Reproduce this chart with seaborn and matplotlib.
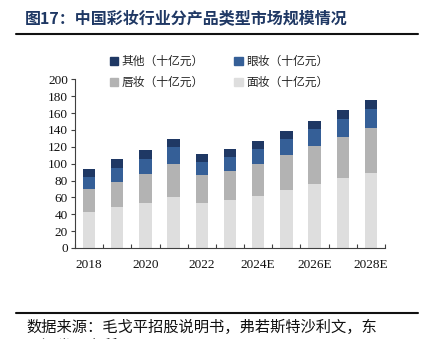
import matplotlib
matplotlib.use("Agg")
import matplotlib.pyplot as plt
import seaborn as sns
import numpy as np
import pandas as pd
from matplotlib.lines import Line2D
from matplotlib.patches import Patch

years = ["2018", "2019", "2020", "2021", "2022", "2023", "2024E", "2025E", "2026E", "2027E", "2028E"]
face = [42.6, 48.5, 53.6, 60.7, 52.9, 56.4, 61.5, 68.6, 75.3, 82.4, 89.5]
lip = [26.8, 30.0, 34.0, 38.7, 33.1, 34.3, 37.9, 41.1, 45.4, 49.0, 52.9]
eye = [15.0, 16.5, 17.4, 19.8, 15.8, 17.0, 17.8, 19.3, 20.1, 21.7, 22.5]
other = [8.7, 10.0, 10.6, 10.6, 9.4, 9.1, 9.4, 9.9, 10.3, 10.2, 10.6]
series_names = ["其他（十亿元）", "眼妆（十亿元）", "唇妆（十亿元）", "面妆（十亿元）"]
colors = ["#1F3864", "#355F97", "#B3B3B3", "#DEDEDE"]
xtick_labels = ["2018", "", "2020", "", "2022", "", "2024E", "", "2026E", "", "2028E"]
title = "图17：中国彩妆行业分产品类型市场规模情况"
source1 = "数据来源：毛戈平招股说明书，弗若斯特沙利文，东"
source2 = "吴证券研究所"

sns.set_style("white")
plt.rcParams["font.family"] = ["Noto Sans CJK SC", "DejaVu Sans"]

W, H = 423, 339
fig = plt.figure(figsize=(W / 100, H / 100), dpi=100)
ax = fig.add_axes([75 / W, 1 - 248 / H, 310 / W, (248 - 79.3) / H])

df = pd.DataFrame({"year": years, "face": face, "lip": lip, "eye": eye, "other": other})
c1 = df["face"]
c2 = c1 + df["lip"]
c3 = c2 + df["eye"]
c4 = c3 + df["other"]
for cum, col in zip([c4, c3, c2, c1], colors):
    sns.barplot(x=df["year"], y=cum, color=col, width=0.44, ax=ax,
                saturation=1, linewidth=0, edgecolor=col)

ax.set_ylim(0, 200)
ax.set_xlim(-0.5, 10.5)
ax.set_yticks(range(0, 201, 20))
ax.set_xticks(range(len(years)))
ax.set_xticklabels(xtick_labels)
ax.set_xlabel("")
ax.set_ylabel("")
ax.set_xticks(np.arange(-0.5, 10.6, 1), minor=True)
ax.tick_params(axis="x", which="major", length=0, pad=8)
ax.tick_params(axis="x", which="minor", direction="in", length=3, width=0.8, color="#404040", bottom=True)
ax.tick_params(axis="y", which="major", direction="out", length=3, width=0.8, color="#404040", left=True, pad=2)
for lab in ax.get_xticklabels() + ax.get_yticklabels():
    lab.set_fontfamily("Liberation Serif")
    lab.set_fontsize(9.5)
    lab.set_color("#111111")
for s in ["top", "right"]:
    ax.spines[s].set_visible(False)
for s in ["left", "bottom"]:
    ax.spines[s].set_color("#404040")
    ax.spines[s].set_linewidth(0.8)

# legend filled column-wise: reorder so rows read 其他/眼妆, 唇妆/面妆
order = [0, 2, 1, 3]
handles = [Patch(facecolor=colors[i], edgecolor=colors[i]) for i in order]
labels = [series_names[i] for i in order]
fig.legend(handles, labels, ncol=2, loc="center", bbox_to_anchor=(219 / W, 1 - 72 / H),
           frameon=False, fontsize=8.5, handlelength=0.7, handleheight=0.7, handletextpad=0.3,
           columnspacing=2.6, labelspacing=0.7)

fig.text(25 / W, 1 - 18 / H, title, fontsize=11.5, fontweight="bold", color="#1F3864",
         va="center", ha="left")
fig.add_artist(Line2D([16 / W, 418 / W], [1 - 34 / H, 1 - 34 / H], color="#111111", lw=1.5))
fig.add_artist(Line2D([16 / W, 418 / W], [1 - 313 / H, 1 - 313 / H], color="#111111", lw=1.5))
fig.text(26 / W, 1 - 327 / H, source1, fontsize=11, color="#111111", va="center", ha="left")
fig.text(26 / W, 1 - 346 / H, source2, fontsize=11, color="#111111", va="center", ha="left")

fig.savefig("out.png", dpi=100)
